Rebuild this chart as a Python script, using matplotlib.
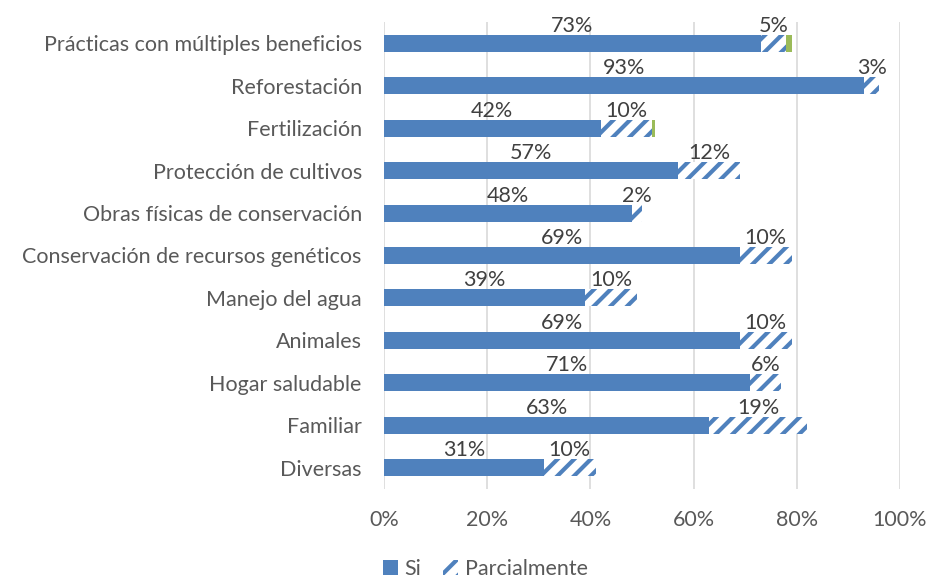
import matplotlib.pyplot as plt
import numpy as np

# --- datos ---
categorias = [
    "Prácticas con múltiples beneficios",
    "Reforestación",
    "Fertilización",
    "Protección de cultivos",
    "Obras físicas de conservación",
    "Conservación de recursos genéticos",
    "Manejo del agua",
    "Animales",
    "Hogar saludable",
    "Familiar",
    "Diversas",
]
si = [73, 93, 42, 57, 48, 69, 39, 69, 71, 63, 31]
parcialmente = [5, 3, 10, 12, 2, 10, 10, 10, 6, 19, 10]
otro = [1, 0, 0.6, 0, 0, 0, 0, 0, 0, 0, 0]  # segmento verde sin leyenda
ticks_x = [0, 20, 40, 60, 80, 100]

AZUL = "#4F81BD"
VERDE = "#9BBB59"
GRIS = "#595959"
FS = 15.5

plt.rcParams['font.family'] = ['Lato', 'DejaVu Sans']
plt.rcParams['hatch.linewidth'] = 3.0
plt.rcParams['hatch.color'] = AZUL

fig = plt.figure(figsize=(9.28, 5.78), dpi=100)
ax = fig.add_axes([0.4138, 0.154, 0.556, 0.808])

y = np.arange(len(categorias))
si_a = np.array(si, dtype=float)
pa_a = np.array(parcialmente, dtype=float)
ot_a = np.array(otro, dtype=float)
alto = 0.40

b_si = ax.barh(y, si_a, height=alto, color=AZUL, label="Si", zorder=3)
b_pa = ax.barh(y, pa_a, left=si_a, height=alto, color="white", edgecolor=AZUL,
               linewidth=0, hatch="//", label="Parcialmente", zorder=3)
ax.barh(y, ot_a, left=si_a + pa_a, height=alto, color=VERDE, zorder=3)

# etiquetas encima de cada segmento
for i in range(len(categorias)):
    ax.text(si_a[i] / 2, i - alto / 2 - 0.07, f"{si[i]}%", ha="center",
            va="baseline", fontsize=FS, color="#404040")
    ax.text(si_a[i] + pa_a[i] / 2, i - alto / 2 - 0.07, f"{parcialmente[i]}%",
            ha="center", va="baseline", fontsize=FS, color="#404040")

ax.set_xlim(0, 100)
ax.set_ylim(len(categorias) - 0.5, -0.5)
ax.set_xticks(ticks_x)
ax.set_xticklabels([f"{t}%" for t in ticks_x])
ax.set_yticks(y)
ax.set_yticklabels(categorias)
ax.tick_params(axis="x", length=0, pad=15, labelsize=FS, labelcolor=GRIS)
ax.tick_params(axis="y", length=0, pad=16, labelsize=FS, labelcolor=GRIS)
ax.grid(axis="x", color="#D9D9D9", linewidth=1.2, zorder=0)
for s in ax.spines.values():
    s.set_visible(False)

fig.legend(handles=[b_si, b_pa], labels=["Si", "Parcialmente"], loc="lower center",
           bbox_to_anchor=(0.523, -0.035), ncol=2, frameon=False, fontsize=FS,
           labelcolor=GRIS, handlelength=0.7, handleheight=0.7,
           handletextpad=0.3, columnspacing=1.0)

fig.savefig("out.png", dpi=100)
